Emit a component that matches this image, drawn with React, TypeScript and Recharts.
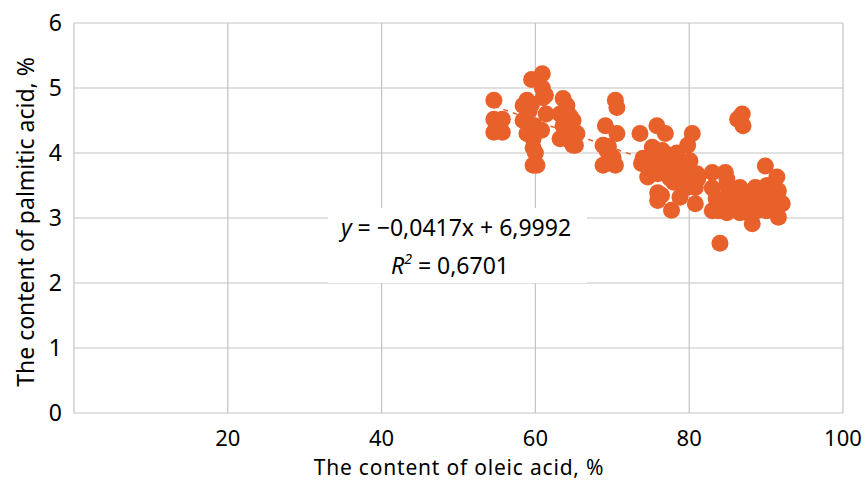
import React from "react";
import { ScatterChart, Scatter, XAxis, YAxis, CartesianGrid, Customized } from "recharts";

const oleic: number[] = [
  54.6, 54.6, 55.7, 54.6, 55.7, 55.2, 55.0,
  59.5, 60.9, 60.9, 61.3, 58.9, 58.4, 61.4, 58.4, 59.9, 59.5, 58.9, 59.7, 59.7, 60.0, 60.2, 59.7, 60.8, 61.0, 59.2,
  63.6, 64.1, 63.2, 64.5, 64.9, 63.6, 64.9, 63.2, 64.5, 64.9, 65.4, 65.2, 63.8, 64.0, 64.3,
  69.1, 70.4, 70.6, 70.6, 68.8, 69.3, 70.1, 68.8, 70.4, 69.5,
  73.6, 75.8, 76.9, 75.2, 74.0, 75.6, 76.5, 74.6, 75.9, 77.5, 75.9, 75.9, 77.7, 78.8, 78.4, 80.4, 79.8, 79.7, 78.8, 78.4,
  79.7, 80.8, 80.8, 80.1, 81.0, 81.1, 76.6, 73.8, 74.5, 75.0, 76.0, 77.0, 78.0, 79.0, 80.0, 76.4, 75.3, 77.3, 79.3, 80.5,
  83.0, 84.7, 83.0, 84.9, 84.9, 83.0, 83.8, 86.6, 87.9, 86.6, 86.9, 86.3, 87.0, 89.9, 91.4, 88.6, 90.1, 91.6, 92.1, 91.6,
  88.2, 84.9, 86.6, 88.8, 90.1, 84.0, 84.9, 86.6, 88.8, 90.5, 91.8, 87.9, 85.8, 83.5, 85.5, 89.5, 87.5, 89.0, 86.0, 90.8, 88.0, 84.2,
];

const palmitic: number[] = [
  4.81, 4.52, 4.52, 4.32, 4.32, 4.5, 4.4,
  5.13, 5.22, 5.0, 4.89, 4.81, 4.73, 4.6, 4.5, 4.42, 4.75, 4.3, 4.22, 4.08, 4.0, 3.81, 3.81, 4.35, 4.85, 4.65,
  4.84, 4.73, 4.6, 4.57, 4.5, 4.42, 4.32, 4.22, 4.19, 4.12, 4.3, 4.12, 4.3, 4.6, 4.45,
  4.42, 4.81, 4.7, 4.3, 4.12, 4.04, 3.93, 3.81, 3.81, 4.1,
  4.3, 4.42, 4.3, 4.09, 3.92, 3.99, 4.04, 3.63, 3.68, 3.61, 3.39, 3.27, 3.12, 3.32, 4.0, 4.3, 4.12, 3.84, 3.81, 3.73,
  3.47, 3.47, 3.22, 3.88, 3.68, 3.6, 3.81, 3.84, 3.8, 3.9, 3.75, 3.9, 3.55, 3.6, 3.6, 3.35, 4.0, 3.97, 3.7, 3.65,
  3.7, 3.7, 3.46, 3.5, 3.6, 3.11, 3.11, 3.47, 3.39, 4.55, 4.6, 4.52, 4.42, 3.8, 3.63, 3.47, 3.5, 3.42, 3.22, 3.01,
  2.91, 3.08, 3.08, 3.11, 3.11, 2.61, 3.32, 3.3, 3.32, 3.32, 3.25, 3.22, 3.2, 3.3, 3.45, 3.4, 3.3, 3.2, 3.35, 3.2, 3.05, 3.2,
];

const xTicks: number[] = [0, 20, 40, 60, 80, 100];
const yTicks: number[] = [0, 1, 2, 3, 4, 5, 6];

const slope = -0.0417;
const intercept = 6.9992;
const trendX: number[] = [54.6, 92.1];

const points = oleic.map((x, i) => ({ x, y: palmitic[i] }));
const trend = trendX.map((x) => ({ x, y: slope * x + intercept }));

const ORANGE = "#E8602A";
const FONT = "'Noto Sans', sans-serif";

const Dot = (props: any) => {
  const { cx, cy } = props;
  if (cx == null || cy == null) return null;
  return <circle cx={cx} cy={cy} r={8.5} fill={ORANGE} />;
};

const Overlay = () => (
  <g fontFamily={FONT} fill="#000">
    <rect x={328} y={208} width={259} height={75} fill="#fff" />
    <text x={456} y={236} fontSize={23} textAnchor="middle">
      <tspan fontStyle="italic">y</tspan> = −0,0417x + 6,9992
    </text>
    <text x={450} y={274} fontSize={23} textAnchor="middle">
      <tspan fontStyle="italic">R</tspan>
      <tspan fontStyle="italic" fontSize={14} dy={-10}>2</tspan>
      <tspan dy={10}> = 0,6701</tspan>
    </text>
    <text x={459} y={475} fontSize={21} letterSpacing={0.8} textAnchor="middle">
      The content of oleic acid, %
    </text>
    <text x={25} y={222} fontSize={23} textAnchor="middle" dominantBaseline="central" transform="rotate(-90 25 222)">
      The content of palmitic acid, %
    </text>
  </g>
);

export default function App() {
  return (
    <div style={{ position: "absolute", left: 0, top: 0, width: 866, height: 481, background: "#fff" }}>
      <ScatterChart width={866} height={481} margin={{ top: 23, right: 23, bottom: 28, left: 14 }}>
        <CartesianGrid stroke="#c4c4c4" strokeWidth={1.2} />
        <XAxis
          type="number"
          dataKey="x"
          domain={[0, 100]}
          ticks={xTicks}
          tickFormatter={(v: number) => (v === 0 ? "" : String(v))}
          axisLine={false}
          tickLine={false}
          height={40}
          tickMargin={11}
          tick={{ fontSize: 22, fill: "#000", fontFamily: FONT }}
        />
        <YAxis
          type="number"
          dataKey="y"
          domain={[0, 6]}
          ticks={yTicks}
          axisLine={false}
          tickLine={false}
          width={60}
          tickMargin={6}
          tick={{ fontSize: 23, fill: "#000", fontFamily: FONT }}
        />
        <Scatter
          data={trend}
          line={{ stroke: ORANGE, strokeWidth: 1.5, strokeDasharray: "5 5" }}
          shape={() => null}
          isAnimationActive={false}
        />
        <Scatter data={points} shape={Dot} isAnimationActive={false} />
        <Customized component={Overlay} />
      </ScatterChart>
    </div>
  );
}
